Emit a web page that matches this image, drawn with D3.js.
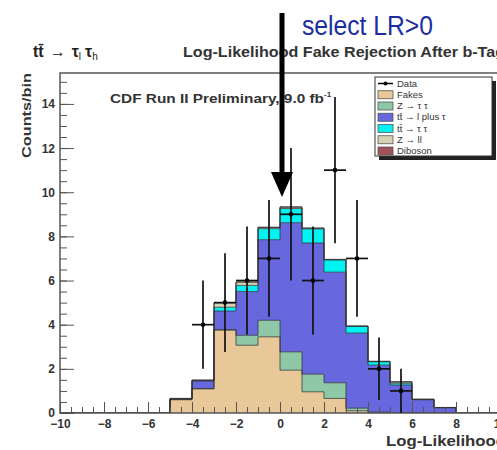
<!DOCTYPE html>
<html><head><meta charset="utf-8">
<script src="https://cdn.jsdelivr.net/npm/d3@7"></script>
<style>body{margin:0;background:#fff;overflow:hidden}svg{display:block}text{font-family:"Liberation Sans",Arial,sans-serif}</style>
</head><body><svg id="c" width="497" height="450"></svg>
<script>
// bin lower edges (width 1)
const binLows = [-10,-9,-8,-7,-6,-5,-4,-3,-2,-1,0,1,2,3,4,5,6,7,8,9];
const fakes    = [0,0,0,0,0,0.60,1.10,3.75,3.07,3.45,1.94,0.96,0.66,0.10,0.02,0,0,0,0,0];
const ztautau  = [0,0,0,0,0,0.02,0.00,0.03,0.45,0.75,0.83,0.80,0.71,0.12,0.02,0,0,0,0,0];
const ttLtau   = [0,0,0,0,0,0.02,0.35,0.84,1.98,3.65,5.85,5.94,5.01,3.40,2.13,1.27,0.60,0.24,0,0];
const ttTauTau = [0,0,0,0,0,0.00,0.02,0.17,0.28,0.50,0.64,0.64,0.55,0.30,0.15,0.08,0.02,0,0,0];
const zll      = [0,0,0,0,0,0.02,0.02,0.20,0.15,0.05,0.06,0.03,0.02,0.02,0.02,0.05,0.00,0.01,0,0];
const diboson  = [0,0,0,0,0,0.00,0.00,0.01,0.00,0.02,0.02,0.01,0.01,0.00,0.00,0.02,0,0,0,0];
const dataCounts = [null,null,null,null,null,null,4,5,6,7,9,6,11,7,2,1,null,null,null,null];
const seriesNames = ["Fakes","Z \u2192 \u03c4 \u03c4","tt\u0304 \u2192 l plus \u03c4","tt\u0304 \u2192 \u03c4 \u03c4","Z \u2192 ll","Diboson"];
const seriesColors = ["#e8c898","#8ec8a6","#6767de","#00f2f2","#d8d2b4","#a3525c"];
const xTicks = [-10,-8,-6,-4,-2,0,2,4,6,8,10];
const yTicks = [0,2,4,6,8,10,12,14];

const svg = d3.select("#c");
const x = d3.scaleLinear().domain([-10,10]).range([60,500]);
const y = d3.scaleLinear().domain([0,15.4]).range([413,73]);

const rows = binLows.map((b,i)=>({b, s0:fakes[i], s1:ztautau[i], s2:ttLtau[i], s3:ttTauTau[i], s4:zll[i], s5:diboson[i]}));
const keys = ["s0","s1","s2","s3","s4","s5"];
const stacked = d3.stack().keys(keys)(rows);

svg.append("defs").append("clipPath").attr("id","pc").append("rect")
  .attr("x",x(-10)).attr("y",y(15.4)).attr("width",x(10)-x(-10)).attr("height",y(0)-y(15.4));
const plot = svg.append("g").attr("clip-path","url(#pc)");

stacked.forEach((layer,li)=>{
  plot.append("g").selectAll("rect").data(layer).join("rect")
    .attr("x",d=>x(d.data.b)).attr("width",d=>x(d.data.b+1)-x(d.data.b))
    .attr("y",d=>y(d[1])).attr("height",d=>Math.max(0,y(d[0])-y(d[1])))
    .attr("fill",seriesColors[li]);
});
stacked.forEach((layer)=>{
  const pts=[];
  layer.forEach(d=>{pts.push([d.data.b,d[1]]);pts.push([d.data.b+1,d[1]]);});
  plot.append("path").attr("d",d3.line().x(p=>x(p[0])).y(p=>y(p[1]))(pts))
    .attr("fill","none").attr("stroke","#333").attr("stroke-width",1).attr("stroke-opacity",0.75);
});

// axes (ticks inside)
const axisColor="#555";
const gx = svg.append("g").attr("transform",`translate(0,${y(0)})`);
gx.call(d3.axisBottom(x).tickValues(d3.range(-10,10.01,0.5)).tickSize(-6).tickFormat(""));
const gx2 = svg.append("g").attr("transform",`translate(0,${y(0)})`);
gx2.call(d3.axisBottom(x).tickValues(xTicks).tickSize(-11).tickPadding(15).tickFormat(d3.format("d")));
const gy = svg.append("g").attr("transform",`translate(${x(-10)},0)`);
gy.call(d3.axisLeft(y).tickValues(d3.range(0,15.01,0.5)).tickSize(-7).tickFormat(""));
const gy2 = svg.append("g").attr("transform",`translate(${x(-10)},0)`);
gy2.call(d3.axisLeft(y).tickValues(yTicks).tickSize(-14).tickPadding(5).tickFormat(d3.format("d")));
[gx,gx2,gy,gy2].forEach(g=>{
  g.select(".domain").remove();
  g.selectAll("line").attr("stroke",axisColor).attr("stroke-width",1);
  g.selectAll("text").attr("font-size",12).attr("font-weight","bold").attr("fill","#333")
   .attr("font-family","Liberation Sans, Arial, sans-serif");
});
gx2.selectAll("text").attr("dy","0");
gy2.selectAll("text").attr("dy","0.33em");
svg.append("rect").attr("x",x(-10)).attr("y",y(15.4)).attr("width",x(10)-x(-10)).attr("height",y(0)-y(15.4))
  .attr("fill","none").attr("stroke",axisColor).attr("stroke-width",1.5);

// data points with sqrt errors
const dpts = binLows.map((b,i)=>({c:b+0.5,b,v:dataCounts[i]})).filter(d=>d.v!=null);
const dg = svg.append("g").attr("stroke","#111").attr("stroke-width",1.7);
dg.selectAll(".ev").data(dpts).join("line")
  .attr("x1",d=>x(d.c)).attr("x2",d=>x(d.c))
  .attr("y1",d=>y(d.v+Math.sqrt(d.v))).attr("y2",d=>y(Math.max(0,d.v-Math.sqrt(d.v))));
dg.selectAll(".eh").data(dpts).join("line")
  .attr("x1",d=>x(d.b)).attr("x2",d=>x(d.b+1)).attr("y1",d=>y(d.v)).attr("y2",d=>y(d.v));
svg.append("g").selectAll("circle").data(dpts).join("circle")
  .attr("cx",d=>x(d.c)).attr("cy",d=>y(d.v)).attr("r",2.3).attr("fill","#000");

// titles
const t1 = svg.append("text").attr("x",33).attr("y",57).attr("font-size",16).attr("fill","#222");
t1.append("tspan").attr("font-weight","bold").text("tt\u0304");
t1.append("tspan").attr("dx",6).text("\u2192");
t1.append("tspan").attr("dx",6).attr("font-weight","bold").text("\u03c4");
t1.append("tspan").attr("font-size",10).attr("dy",3).text("l");
t1.append("tspan").attr("dx",4).attr("dy",-3).attr("font-weight","bold").text("\u03c4");
t1.append("tspan").attr("font-size",10).attr("dy",3).text("h");
svg.append("text").attr("x",183).attr("y",57).attr("font-size",14).attr("font-weight","bold").attr("fill","#333")
  .attr("textLength",322).attr("lengthAdjust","spacingAndGlyphs")
  .text("Log-Likelihood Fake Rejection After b-Tag");
const cdf = svg.append("text").attr("x",110).attr("y",103).attr("font-weight","bold").attr("fill","#333");
cdf.append("tspan").attr("font-size",13).attr("textLength",214).attr("lengthAdjust","spacingAndGlyphs").text("CDF Run II Preliminary, 9.0 fb");
cdf.append("tspan").attr("font-size",8).attr("dy",-6).text("-1");
svg.append("text").attr("transform","translate(31,73) rotate(-90)").attr("text-anchor","end")
  .attr("font-size",13).attr("font-weight","bold").attr("fill","#333")
  .attr("textLength",85).attr("lengthAdjust","spacingAndGlyphs").text("Counts/bin");
svg.append("text").attr("x",386).attr("y",446).attr("font-size",14).attr("font-weight","bold").attr("fill","#333")
  .attr("textLength",120).attr("lengthAdjust","spacingAndGlyphs").text("Log-Likelihood");

// legend
const lg = svg.append("g");
lg.append("rect").attr("x",379).attr("y",81).attr("width",117).attr("height",79).attr("fill","#222");
lg.append("rect").attr("x",375).attr("y",77).attr("width",117).attr("height",79).attr("fill","#fff").attr("stroke","#333").attr("stroke-width",1);
const ly = d3.scaleLinear().domain([0,6]).range([83.5,151]);
lg.append("line").attr("x1",378).attr("x2",393).attr("y1",ly(0)).attr("y2",ly(0)).attr("stroke","#000").attr("stroke-width",1.5);
lg.append("circle").attr("cx",385.5).attr("cy",ly(0)).attr("r",2).attr("fill","#000");
lg.append("text").attr("x",397).attr("y",ly(0)+3).attr("font-size",9.5).attr("fill","#333").text("Data");
seriesNames.forEach((n,i)=>{
  lg.append("rect").attr("x",378).attr("y",ly(i+1)-4).attr("width",15).attr("height",8)
    .attr("fill",seriesColors[i]).attr("stroke","#555").attr("stroke-width",0.8);
  lg.append("text").attr("x",397).attr("y",ly(i+1)+3).attr("font-size",9.5).attr("fill","#333").text(n);
});

// annotation arrow
svg.append("line").attr("x1",282).attr("x2",282).attr("y1",13).attr("y2",176).attr("stroke","#000").attr("stroke-width",5);
svg.append("path").attr("d",`M271,172 L293,172 L282,197 Z`).attr("fill","#000");
svg.append("text").attr("x",302).attr("y",35).attr("font-size",27).attr("fill","#1a2ea0")
  .attr("textLength",131).attr("lengthAdjust","spacingAndGlyphs").text("select LR>0");
</script></body></html>
